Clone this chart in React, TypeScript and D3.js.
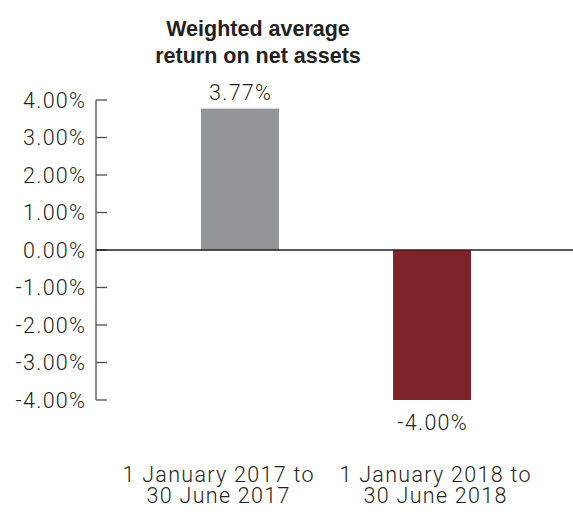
import React from "react";
import * as d3 from "d3";

const categoriesLine1 = ["1 January 2017 to", "1 January 2018 to"];
const categoriesLine2 = ["30 June 2017", "30 June 2018"];
const categories = ["2017", "2018"];
const values = [3.77, -4.0];
const valueLabels = ["3.77%", "-4.00%"];
const barColors = ["#939598", "#7f252a"];
const yTicks = [4, 3, 2, 1, 0, -1, -2, -3, -4];
const titleLines = ["Weighted average", "return on net assets"];

const W = 573;
const H = 514;
const LIGHT = "'Roboto', 'Liberation Sans', sans-serif";
const BOLD = "'Liberation Sans', Arial, sans-serif";
const FS = 21.5;
const LS = 1.3;

export default function App() {
  const y = d3.scaleLinear().domain([-4, 4]).range([400, 100]);
  const x = d3.scaleBand<string>().domain(categories).range([201, 471]).paddingInner(0.594).paddingOuter(0);
  const axisX = 96;
  const catDx = [-22, 3];
  const fmt = (v: number) => `${v.toFixed(2)}%`;
  const lightText = { fontFamily: LIGHT, fontWeight: 300, fontSize: FS, fill: "#231f20", letterSpacing: LS } as const;

  return (
    <svg width={W} height={H} style={{ position: "absolute", left: 0, top: 0, background: "#fff" }}>
      <text x={258} y={36} textAnchor="middle" fontFamily={BOLD} fontWeight="bold" fontSize={21.5} fill="#231f20">
        {titleLines.map((t, i) => (
          <tspan key={t} x={258} dy={i === 0 ? 0 : 27}>
            {t}
          </tspan>
        ))}
      </text>
      {/* axis */}
      <line x1={axisX} x2={axisX} y1={y(4)} y2={y(-4)} stroke="#4d4d4f" strokeWidth={1.3} />
      {yTicks.map((t) => (
        <g key={t}>
          <line x1={axisX} x2={axisX + 11} y1={y(t)} y2={y(t)} stroke="#4d4d4f" strokeWidth={1.3} />
          <text x={85 + LS} y={y(t)} dy="0.36em" textAnchor="end" style={lightText}>
            {fmt(t)}
          </text>
        </g>
      ))}
      {/* bars */}
      {categories.map((c, i) => {
        const v = values[i];
        const y0 = y(Math.max(0, v));
        const y1 = y(Math.min(0, v));
        const cx = (x(c) as number) + x.bandwidth() / 2 + LS / 2;
        return (
          <g key={c}>
            <rect x={x(c)} y={y0} width={x.bandwidth()} height={y1 - y0} fill={barColors[i]} />
            <text x={cx} y={v >= 0 ? y(v) - 9 : y(v) + 30} textAnchor="middle" style={lightText}>
              {valueLabels[i]}
            </text>
            <text x={cx + catDx[i]} y={482} textAnchor="middle" style={lightText}>
              <tspan x={cx + catDx[i]} dy={0}>{categoriesLine1[i]}</tspan>
              <tspan x={cx + catDx[i]} dy={21}>{categoriesLine2[i]}</tspan>
            </text>
          </g>
        );
      })}
      {/* zero line */}
      <line x1={axisX} x2={W} y1={y(0)} y2={y(0)} stroke="#231f20" strokeWidth={1.3} />
    </svg>
  );
}
